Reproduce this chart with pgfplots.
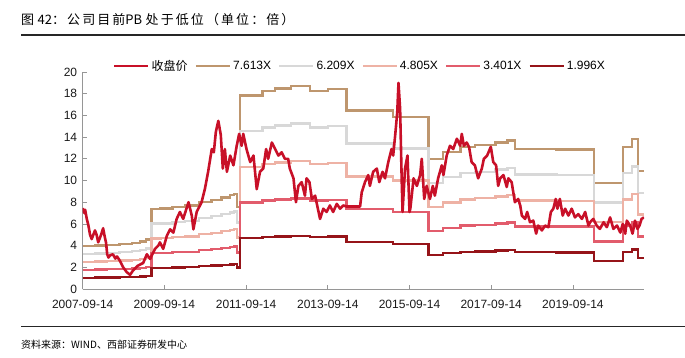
\documentclass[border=0pt]{standalone}
\usepackage{pgfplots}
\usepackage{pgfplotstable}
\pgfplotsset{compat=1.18}
\usepackage{fontspec}
\setmainfont{Liberation Sans}
\newfontfamily\cjk{Noto Sans CJK SC}
\newfontfamily\cjktitle[LetterSpace=16]{Noto Sans CJK SC}
\definecolor{pricec}{RGB}{200,16,40}
\definecolor{cA}{RGB}{190,150,110}
\definecolor{cB}{RGB}{216,216,216}
\definecolor{cC}{RGB}{238,178,165}
\definecolor{cD}{RGB}{226,92,108}
\definecolor{cE}{RGB}{150,20,25}
\definecolor{axgray}{RGB}{150,150,150}

\pgfplotstableread{
x pA pB pC pD pE
2007.70 3.936 3.210 2.484 1.758 1.032
2008.00 3.997 3.260 2.523 1.786 1.048
2008.30 4.073 3.322 2.571 1.820 1.068
2008.60 4.172 3.403 2.633 1.864 1.094
2008.90 4.263 3.477 2.691 1.905 1.118
2009.10 4.377 3.570 2.763 1.956 1.148
2009.25 4.568 3.725 2.883 2.041 1.198
2009.38 7.400 6.035 4.670 3.306 1.940
2009.60 7.423 6.054 4.685 3.316 1.946
2009.90 7.575 6.178 4.781 3.384 1.986
2010.20 7.689 6.271 4.853 3.435 2.016
2010.55 7.994 6.519 5.045 3.571 2.096
2010.85 8.222 6.706 5.189 3.673 2.156
2011.10 8.450 6.892 5.334 3.775 2.216
2011.30 8.641 7.047 5.454 3.860 2.265
2011.40 8.770 7.153 5.535 3.918 2.299
2011.48 7.537 6.147 4.757 3.367 1.976
2011.55 17.852 14.560 11.268 7.975 4.681
2012.10 18.271 14.902 11.532 8.162 4.790
2012.40 18.462 15.057 11.652 8.247 4.840
2012.80 18.690 15.243 11.796 8.349 4.900
2013.27 18.271 14.902 11.532 8.162 4.790
2013.70 18.423 15.026 11.628 8.230 4.830
2014.16 16.444 13.411 10.379 7.346 4.311
2015.30 15.873 12.946 10.018 7.091 4.162
2016.16 11.990 9.779 7.568 5.357 3.144
2016.52 12.638 10.307 7.976 5.646 3.313
2016.95 13.094 10.679 8.265 5.850 3.433
2017.30 13.247 10.804 8.361 5.918 3.473
2017.80 13.513 11.021 8.529 6.037 3.543
2018.10 13.703 11.176 8.649 6.122 3.593
2018.28 12.927 10.543 8.159 5.775 3.389
2019.30 12.866 10.493 8.120 5.748 3.373
2020.22 9.783 7.979 6.174 4.370 2.565
2020.93 13.079 10.667 8.255 5.843 3.429
2021.15 13.848 11.294 8.740 6.186 3.631
2021.29 10.871 8.866 6.862 4.857 2.850
2021.44 10.871 8.866 6.862 4.857 2.850
}\bands

\pgfplotstableread{
x y
2007.70 7.45
2007.74 7.0
2007.76 7.3
2007.80 6.46
2007.84 5.85
2007.88 5.0
2007.92 4.6
2008.00 5.4
2008.04 5.0
2008.08 4.3
2008.15 5.0
2008.20 5.6
2008.24 4.8
2008.27 4.3
2008.30 3.2
2008.33 2.9
2008.37 3.1
2008.44 3.2
2008.50 2.8
2008.54 3.0
2008.61 2.6
2008.69 2.0
2008.78 1.55
2008.86 1.3
2008.93 1.7
2009.05 2.15
2009.18 2.4
2009.27 3.2
2009.35 2.77
2009.47 3.7
2009.55 4.0
2009.59 4.3
2009.67 3.7
2009.76 4.9
2009.84 5.5
2009.92 5.2
2010.00 6.46
2010.08 7.1
2010.16 6.46
2010.29 8.0
2010.37 6.77
2010.41 5.5
2010.49 7.1
2010.61 8.0
2010.69 9.2
2010.77 10.8
2010.86 12.9
2010.91 12.6
2010.96 14.5
2011.02 15.5
2011.08 14.2
2011.13 11.1
2011.18 12.9
2011.23 10.8
2011.31 12.3
2011.39 11.4
2011.47 13.2
2011.53 14.3
2011.59 13.2
2011.63 14.3
2011.71 12.9
2011.80 11.7
2011.88 12.3
2011.96 9.2
2012.04 10.8
2012.12 11.1
2012.19 12.9
2012.24 12.0
2012.33 13.5
2012.41 12.9
2012.49 12.3
2012.57 12.6
2012.65 12.0
2012.73 12.0
2012.77 11.1
2012.86 10.2
2012.92 8.0
2012.98 9.5
2013.06 9.85
2013.14 8.6
2013.18 10.2
2013.25 9.85
2013.31 8.3
2013.39 8.6
2013.44 7.7
2013.51 6.46
2013.59 7.4
2013.67 7.1
2013.75 7.7
2013.83 7.1
2013.92 7.85
2014.00 7.4
2014.08 7.7
2014.16 7.6
2014.49 7.6
2014.53 8.9
2014.61 9.85
2014.69 10.5
2014.73 9.5
2014.81 10.8
2014.90 11.1
2014.96 9.85
2015.04 10.8
2015.10 10.2
2015.18 11.7
2015.26 12.9
2015.30 12.3
2015.35 14.2
2015.40 16.3
2015.43 19.0
2015.47 16.6
2015.51 9.85
2015.53 7.1
2015.59 11.1
2015.65 12.3
2015.70 7.1
2015.72 7.4
2015.80 10.2
2015.88 9.5
2015.96 10.5
2016.00 12.0
2016.06 8.3
2016.12 9.5
2016.20 8.3
2016.27 9.5
2016.32 8.6
2016.40 10.2
2016.49 11.4
2016.53 10.5
2016.61 12.3
2016.69 13.2
2016.77 12.9
2016.86 13.85
2016.94 13.2
2016.98 14.3
2017.03 13.2
2017.10 13.5
2017.16 13.05
2017.22 11.7
2017.30 11.4
2017.38 10.2
2017.47 11.1
2017.52 12.0
2017.60 12.3
2017.69 13.1
2017.75 11.7
2017.82 11.4
2017.87 9.5
2017.92 10.2
2018.00 10.5
2018.08 9.4
2018.12 10.2
2018.20 9.85
2018.28 8.0
2018.36 8.3
2018.41 7.7
2018.45 6.77
2018.53 6.46
2018.58 7.1
2018.65 6.15
2018.73 6.3
2018.80 5.1
2018.85 5.85
2018.94 5.4
2019.02 5.85
2019.10 5.7
2019.16 7.1
2019.22 7.4
2019.28 8.3
2019.32 7.4
2019.38 8.3
2019.45 6.77
2019.51 7.4
2019.59 6.77
2019.67 7.4
2019.75 6.6
2019.83 6.9
2019.92 6.46
2020.00 7.1
2020.08 5.85
2020.12 6.15
2020.20 6.46
2020.28 5.85
2020.36 5.54
2020.45 6.15
2020.53 5.7
2020.61 6.6
2020.69 5.54
2020.78 5.85
2020.86 5.2
2020.92 6.0
2020.98 5.1
2021.02 6.3
2021.10 5.85
2021.16 5.1
2021.22 6.3
2021.28 5.54
2021.33 5.85
2021.38 6.46
2021.44 6.6
}\price

\begin{document}
\begin{tikzpicture}[x=1pt,y=1pt]
\useasboundingbox (0,0) rectangle (685,357);
\node[anchor=west, inner sep=0pt] at (21,337) {\fontsize{13}{15}\selectfont{\cjktitle 图}\hspace{3.5pt}{\cjk 42}{\cjktitle ：公司目前}{\cjk PB}\hspace{3.5pt}{\cjktitle 处于低位（单位：倍）}};
\draw[line width=1.1pt, black!85] (21,322) -- (685,322);
\draw[line width=0.9pt, black!85] (21,31) -- (685,31);
\node[anchor=west, inner sep=0pt] at (21,12) {\cjk\fontsize{10}{12}\selectfont 资料来源：WIND、西部证券研发中心};
\begin{axis}[
  at={(82.7pt,68pt)}, anchor=south west,
  scale only axis, width=561.3pt, height=217pt,
  xmin=2007.70, xmax=2021.44, ymin=0, ymax=20,
  axis lines*=left,
  axis line style={axgray, line width=0.8pt},
  tick align=inside, major tick length=4pt,
  tick style={axgray, line width=0.8pt},
  xtick={2007.70,2009.70,2011.70,2013.70,2015.70,2017.70,2019.70},
  xticklabels={2007-09-14,2009-09-14,2011-09-14,2013-09-14,2015-09-14,2017-09-14,2019-09-14},
  ytick={0,2,...,20},
  /pgf/number format/assume math mode=true,
  ticklabel style={font=\fontsize{12}{14}\selectfont, text=black!90},
  xticklabel style={yshift=-8pt},
  yticklabel style={xshift=-2pt},
  legend image code/.code={\draw[#1] (0pt,0pt) -- (34pt,0pt);},
  legend style={at={(0.494,1.028)}, anchor=center, draw=none, fill=none,
    legend columns=6, font=\fontsize{12}{14}\selectfont,
    /tikz/every even column/.append style={column sep=5pt}},
]
\addlegendimage{color=pricec, line width=2.6pt}
\addlegendentry{{\cjk 收盘价}}
\addplot[const plot, color=cA, line width=2.4pt] table[x=x,y=pA] {\bands};
\addlegendentry{7.613X}
\addplot[const plot, color=cB, line width=2.4pt] table[x=x,y=pB] {\bands};
\addlegendentry{6.209X}
\addplot[const plot, color=cC, line width=2.4pt] table[x=x,y=pC] {\bands};
\addlegendentry{4.805X}
\addplot[const plot, color=cD, line width=2.4pt] table[x=x,y=pD] {\bands};
\addlegendentry{3.401X}
\addplot[const plot, color=cE, line width=2.4pt] table[x=x,y=pE] {\bands};
\addlegendentry{1.996X}
\addplot[color=pricec, line width=2.6pt, line join=round, forget plot] table[x=x,y=y] {\price};
\end{axis}
\end{tikzpicture}
\end{document}
